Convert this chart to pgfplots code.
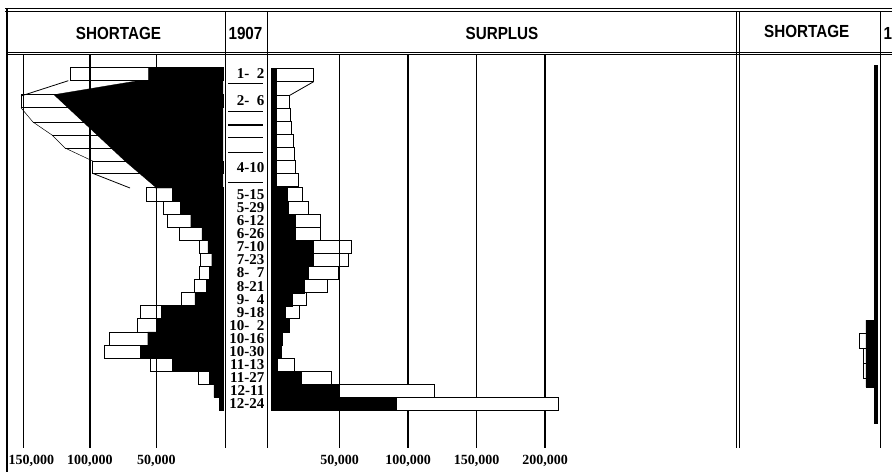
\documentclass[border=0pt]{standalone}
\usepackage{fontspec}
\setmainfont{Liberation Serif}
\newfontfamily\hdrfont{Liberation Sans}[FakeStretch=0.87]
\usepackage{pgfplots}
\usepackage{pgfplotstable}
\pgfplotsset{compat=1.18}

\newcommand\hdr{\hdrfont\bfseries\fontsize{17.5}{20}\selectfont}
\newcommand\tickf{\bfseries\fontsize{14}{16}\selectfont}
\newcommand\datef{\bfseries\fontsize{15}{17}\selectfont}
\newcommand\fs{\phantom{1}}

\pgfplotsset{
  panel/.style={
    scale only axis, clip=false, anchor=center,
    y dir=reverse, ymin=55, ymax=448, height=393pt,
    axis line style={draw=none},
    major tick length=0pt,
    ytick=\empty,
    scaled x ticks=false,
    xmajorgrids, grid style={black, line width=1.1pt},
    xticklabel pos=lower,
    xticklabel style={font=\tickf, anchor=north, inner sep=1pt, yshift=-6pt},
  },
  wbar/.style={xbar, bar shift=0pt, fill=none, draw=black, line width=0.9pt},
  bbar/.style={xbar, bar shift=0pt, fill=black, draw=black, line width=0.3pt},
}

% biweekly rows (row position, shortage black/white, surplus black/white)
\pgfplotstableread{
y     sb     sw     ub     uw
194.4 38100 57900 11500 23000
207.5 32300 44900 12700 27400
220.6 24300 41400 17600 35800
233.7 15800 33100 17600 35800
246.8 11300 18000 31100 58600
259.9 8500  16800 31100 56600
273.0 10500 18000 27400 49300
286.1 12300 21100 24500 41400
299.2 21100 31100 15700 26000
312.3 46600 62400 10300 20600
325.4 49400 64100 13200 13200
338.5 56600 85000 8300  8300
351.6 62400 89300 7100  7100
364.7 38100 54900 4200  17400
377.8 10500 18800 21800 43900
390.9 6800  6800  50000 119100
404.0 3000  3000  91700 209800
}\biweekly

\begin{document}
\begin{tikzpicture}
\useasboundingbox (0,0) rectangle (892pt,-472pt);
\clip (0,0) rectangle (892pt,-472pt);

% ---------------- SHORTAGE 1907 ----------------
\begin{axis}[panel, at={(123.25pt,-251.5pt)}, width=199.5pt,
  xmin=0, xmax=150000, x dir=reverse,
  xtick={50000,100000,150000},
  xticklabels={{50,000},{100,000},{\hspace{16pt}150,000}}]
\addplot[draw=black, line width=0.8pt] coordinates {(116300,80.7) (151900,96)};
\addplot[draw=black, line width=0.5pt] coordinates {(151900,107.7) (142900,122) (128600,135) (118800,148) (98000,161)};
\addplot[draw=black, line width=0.8pt] coordinates {(98000,173.3) (69900,188)};
\addplot[draw=black, line width=0.9pt] coordinates {(142900,122) (0,122)};
\addplot[draw=black, line width=0.9pt] coordinates {(128600,135) (0,135)};
\addplot[draw=black, line width=0.9pt] coordinates {(118800,148) (0,148)};
\addplot[wbar, bar width=13.4] coordinates {(115000,74)};
\addplot[wbar, bar width=13] coordinates {(151900,101.2)};
\addplot[wbar, bar width=12.3] coordinates {(98000,167.2)};
\addplot[wbar, bar width=13.1] table[x=sw, y=y] {\biweekly};
\addplot[fill=black, draw=black, line width=0.3pt] coordinates {(0,67.3) (56200,67.3) (56200,80.7) (63900,80.7) (127100,94.7) (73700,161) (51100,186.7) (51100,188) (0,188)} -- cycle;
\addplot[bbar, bar width=13.1] table[x=sb, y=y] {\biweekly};
\end{axis}

% ---------------- SURPLUS 1907 ----------------
\begin{axis}[panel, at={(408pt,-251.5pt)}, width=274pt,
  xmin=0, xmax=200000,
  xtick={50000,100000,150000,200000},
  xticklabels={{50,000},{100,000},{150,000},{200,000}},
  ytick={74,101,168,194.4,207.5,220.6,233.7,246.8,259.9,273,286.1,299.2,312.3,325.4,338.5,351.6,364.7,377.8,390.9,404},
  yticklabels={1-\fs 2,2-\fs 6,4-10,5-15,5-29,6-12,6-26,7-10,7-23,8-\fs 7,8-21,9-\fs 4,9-18,10-\fs 2,10-16,10-30,11-13,11-27,12-11,12-24},
  yticklabel style={font=\datef, anchor=east, inner sep=0.5pt, xshift=-6pt}]
\addplot[wbar, bar width=13.4] coordinates {(31100,74.8)};
\addplot[draw=black, line width=0.8pt] coordinates {(31100,81.7) (13200,95.7)};
\addplot[wbar, bar width=13] coordinates {(13200,102.2) (14500,115.2) (15200,128.2) (16200,141.2) (16900,154.2) (18200,167.2) (19900,180.2)};
\addplot[wbar, bar width=13.1] table[x=uw, y=y] {\biweekly};
\addplot[wbar, fill=white, bar width=13.1] coordinates {(119100,390.9) (209800,404)};
\addplot[fill=black, draw=black, line width=0.3pt] coordinates {(0,68) (3500,68) (3500,188) (0,188)} -- cycle;
\addplot[bbar, bar width=13.1] table[x=ub, y=y] {\biweekly};
\end{axis}

% ---------------- SHORTAGE (next year) ----------------
\begin{axis}[panel, at={(810.5pt,-251.5pt)}, width=133pt,
  xmin=0, xmax=100000, x dir=reverse, xmajorgrids=false, xtick=\empty]
\addplot[wbar, bar width=15] coordinates {(13300,340.8)};
\addplot[wbar, bar width=15] coordinates {(10300,355.8) (10300,370.8)};
\addplot[fill=black, draw=black, line width=0.3pt] coordinates {(0,65) (2000,65) (2000,320) (8300,320) (8300,387) (2000,387) (2000,423) (0,423)} -- cycle;
\end{axis}

% ---------------- frame and headings ----------------
\begin{scope}[x=1pt,y=-1pt]
\draw[line width=0.6pt] (5,8.5) -- (892,8.5);
\draw[line width=1.2pt] (5,11.2) -- (892,11.2);
\draw[line width=1pt] (7,52) -- (892,52);
\draw[line width=0.6pt] (7,54.5) -- (892,54.5);
\draw[line width=1.6pt] (6.8,8) -- (6.8,472);
\draw[line width=1.2pt] (225.7,11) -- (225.7,448);
\draw[line width=1.2pt] (267.8,11) -- (267.8,448);
\draw[line width=0.9pt] (736.5,11) -- (736.5,448);
\draw[line width=0.9pt] (739.7,11) -- (739.7,448);
\draw[line width=1pt] (880,11) -- (880,448);
\foreach \yy/\w in {83.3/1, 111/1, 125/1.4, 137.7/1.4, 152.7/1.4, 182.7/1}
  \draw[line width=\w pt] (228,\yy) -- (263,\yy);
\node[font=\hdr] at (118.5,33.6) {SHORTAGE};
\node[font=\hdr] at (245.5,33.6) {1907};
\node[font=\hdr] at (502,33.6) {SURPLUS};
\node[font=\hdr] at (806.7,31.5) {SHORTAGE};
\node[font=\hdr, anchor=west, inner sep=0pt] at (883.5,33.6) {1908};
\end{scope}
\end{tikzpicture}
\end{document}
